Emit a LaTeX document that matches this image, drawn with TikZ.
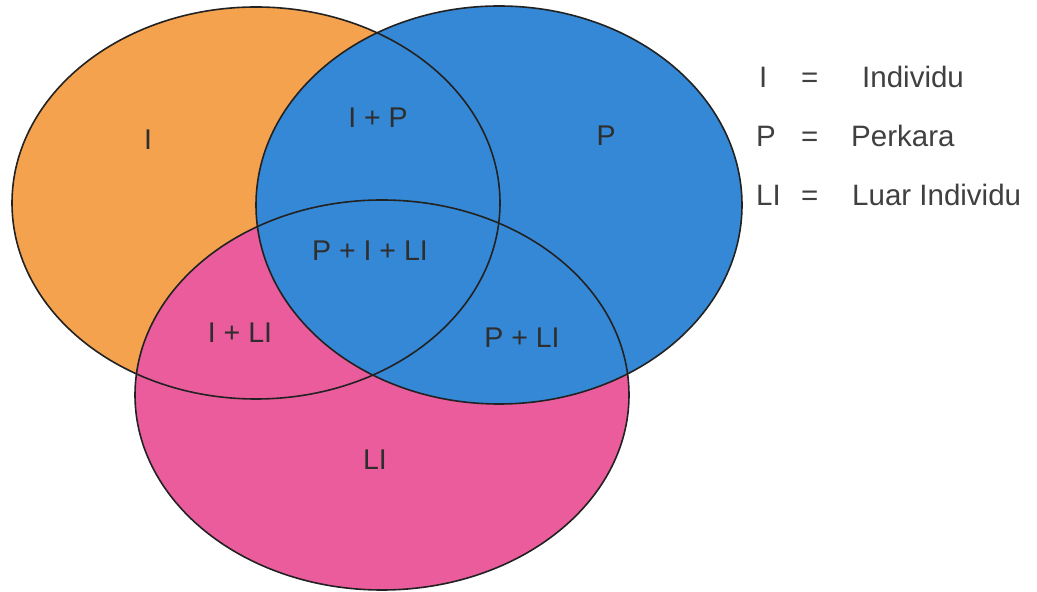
\documentclass[tikz,border=0pt]{standalone}
\usepackage{fontspec}
\setmainfont{Liberation Sans}
\definecolor{cOrange}{HTML}{F4A24E}
\definecolor{cBlue}{HTML}{3588D5}
\definecolor{cPink}{HTML}{EA5C9C}
\definecolor{cLine}{HTML}{222222}
\definecolor{cText}{HTML}{2E2E2E}
\definecolor{cLeg}{HTML}{404040}
\begin{document}
\begin{tikzpicture}[x=1pt,y=1pt,
  outline/.style={draw=cLine,line width=1.6pt},
  lbl/.style={font=\fontsize{28.5}{28.5}\selectfont,text=cText,inner sep=0pt},
  leg/.style={font=\fontsize{29.5}{29.5}\selectfont,text=cLeg,inner sep=0pt,anchor=base west}]
\useasboundingbox[fill=white] (0,0) rectangle (1037,592);
% fills
\fill[cOrange] (256,389) ellipse [x radius=244, y radius=196];
\fill[cPink] (382,197) ellipse [x radius=247, y radius=195];
\fill[cBlue] (499,387) ellipse [x radius=243, y radius=199];
% outlines
\draw[outline] (256,389) ellipse [x radius=244, y radius=196];
\draw[outline] (382,197) ellipse [x radius=247, y radius=195];
\draw[outline] (499,387) ellipse [x radius=243, y radius=199];
% region labels
\node[lbl] (lI) at (148,452) {I};
\node[lbl] (lIP) at (378,474) {I + P};
\node[lbl] (lP) at (606,456) {P};
\node[lbl] (lPILI) at (370,341) {P + I + LI};
\node[lbl] (lILI) at (240,259) {I + LI};
\node[lbl] (lPLI) at (522,254) {P + LI};
\node[lbl] (lLI) at (375,132) {LI};
% legend
\node[leg] (k1) at (759,504) {I};
\node[leg] (e1) at (801,504) {=};
\node[leg] (v1) at (862,504) {Individu};
\node[leg] (k2) at (756,445) {P};
\node[leg] (e2) at (801,445) {=};
\node[leg] (v2) at (851,445) {Perkara};
\node[leg] (k3) at (756,386) {LI};
\node[leg] (e3) at (801,386) {=};
\node[leg] (v3) at (852,386) {Luar Individu};
\end{tikzpicture}
\end{document}
